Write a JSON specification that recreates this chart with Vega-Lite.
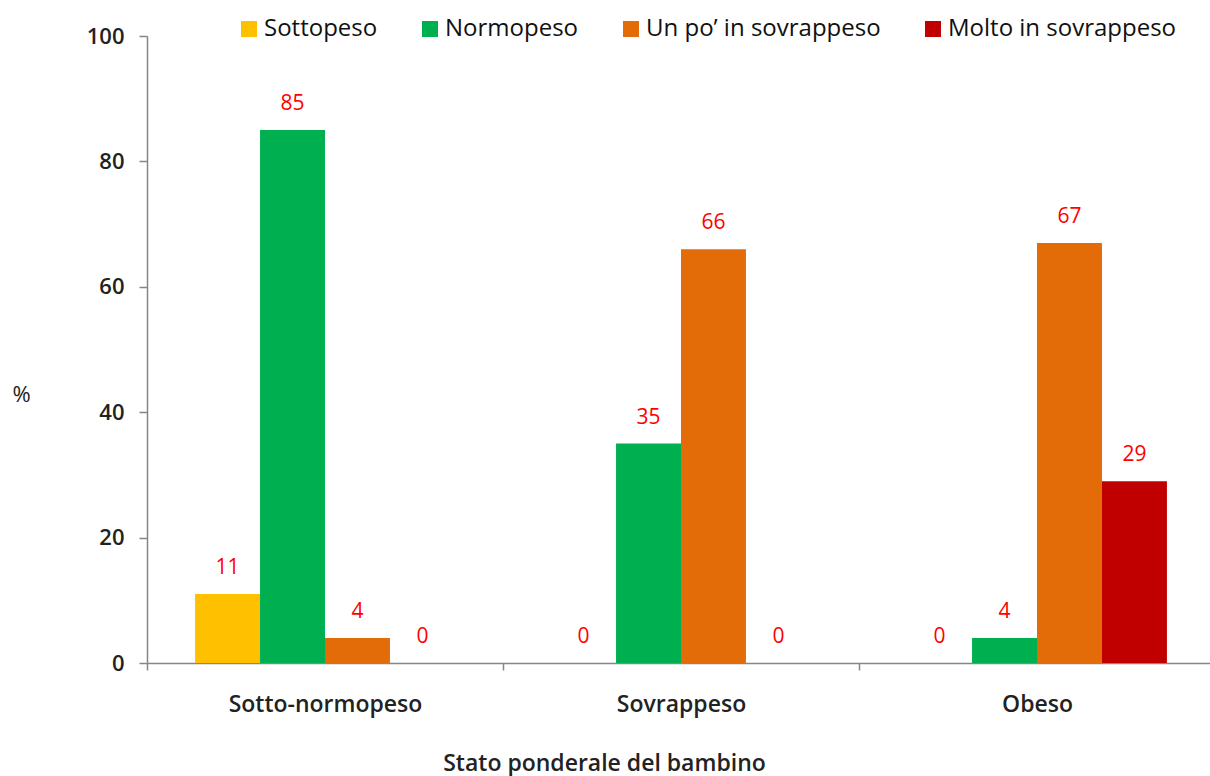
{
  "$schema": "https://vega.github.io/schema/vega-lite/v6.json",
  "autosize": "none",
  "width": 1068,
  "height": 627,
  "padding": {"left": 147, "top": 36, "right": 0, "bottom": 113},
  "background": "white",
  "config": {
    "view": {"stroke": null},
    "font": "Open Sans"
  },
  "data": {
    "values": [
      {"stato": "Sotto-normopeso", "percezione": "Sottopeso", "valore": 11},
      {"stato": "Sotto-normopeso", "percezione": "Normopeso", "valore": 85},
      {"stato": "Sotto-normopeso", "percezione": "Un po’ in sovrappeso", "valore": 4},
      {"stato": "Sotto-normopeso", "percezione": "Molto in sovrappeso", "valore": 0},
      {"stato": "Sovrappeso", "percezione": "Sottopeso", "valore": 0},
      {"stato": "Sovrappeso", "percezione": "Normopeso", "valore": 35},
      {"stato": "Sovrappeso", "percezione": "Un po’ in sovrappeso", "valore": 66},
      {"stato": "Sovrappeso", "percezione": "Molto in sovrappeso", "valore": 0},
      {"stato": "Obeso", "percezione": "Sottopeso", "valore": 0},
      {"stato": "Obeso", "percezione": "Normopeso", "valore": 4},
      {"stato": "Obeso", "percezione": "Un po’ in sovrappeso", "valore": 67},
      {"stato": "Obeso", "percezione": "Molto in sovrappeso", "valore": 29}
    ]
  },
  "encoding": {
    "x": {
      "field": "stato", "type": "nominal", "sort": null,
      "scale": {"paddingInner": 0, "paddingOuter": 0},
      "axis": {
        "title": "Stato ponderale  del bambino",
        "labelAngle": 0,
        "labelLimit": 400,
        "tickBand": "extent",
        "tickSize": 7,
        "tickColor": "#868686",
        "domainColor": "#868686",
        "domainWidth": 1.5,
        "tickWidth": 1.5,
        "labelFontSize": 23,
        "labelFontWeight": 600,
        "labelColor": "#222222",
        "labelPadding": 23,
        "labelBaseline": "top",
        "titleFontSize": 23,
        "titleFontWeight": 600,
        "titleColor": "#222222",
        "titleX": 457,
        "titleY": 107,
        "titleBaseline": "alphabetic"
      }
    },
    "xOffset": {
      "field": "percezione", "type": "nominal", "sort": null,
      "scale": {"paddingInner": 0, "paddingOuter": 0.74}
    },
    "y": {
      "field": "valore", "type": "quantitative",
      "scale": {"domain": [0, 100], "nice": false},
      "axis": {
        "title": "%",
        "titleAngle": 0,
        "titleFontSize": 22,
        "titleFontWeight": "normal",
        "titleColor": "#222222",
        "titleX": -135,
        "titleY": 370,
        "titleAlign": "left",
        "titleBaseline": "bottom",
        "values": [0, 20, 40, 60, 80, 100],
        "grid": false,
        "tickSize": 8,
        "tickColor": "#868686",
        "domainColor": "#868686",
        "domainWidth": 1.5,
        "tickWidth": 1.5,
        "labelFontSize": 22,
        "labelFontWeight": 600,
        "labelColor": "#222222",
        "labelPadding": 15
      }
    }
  },
  "layer": [
    {
      "mark": {"type": "bar"},
      "encoding": {
        "color": {
          "field": "percezione", "type": "nominal", "sort": null,
          "scale": {
            "domain": ["Sottopeso", "Normopeso", "Un po’ in sovrappeso", "Molto in sovrappeso"],
            "range": ["#FFC000", "#00B050", "#E36C09", "#C00000"]
          },
          "legend": {
            "title": null,
            "orient": "none",
            "direction": "horizontal",
            "legendX": 90,
            "legendY": -19,
            "symbolType": "square",
            "symbolSize": 256,
            "symbolStrokeWidth": 0,
            "labelFontSize": 24,
            "labelFontWeight": 500,
            "labelLimit": 400,
            "labelColor": "#111111",
            "labelOffset": 3,
            "columnPadding": 40
          }
        }
      }
    },
    {
      "mark": {"type": "text", "baseline": "bottom", "dy": -16, "fontSize": 21, "color": "#FF0000"},
      "encoding": {
        "text": {"field": "valore", "type": "quantitative"}
      }
    }
  ]
}
